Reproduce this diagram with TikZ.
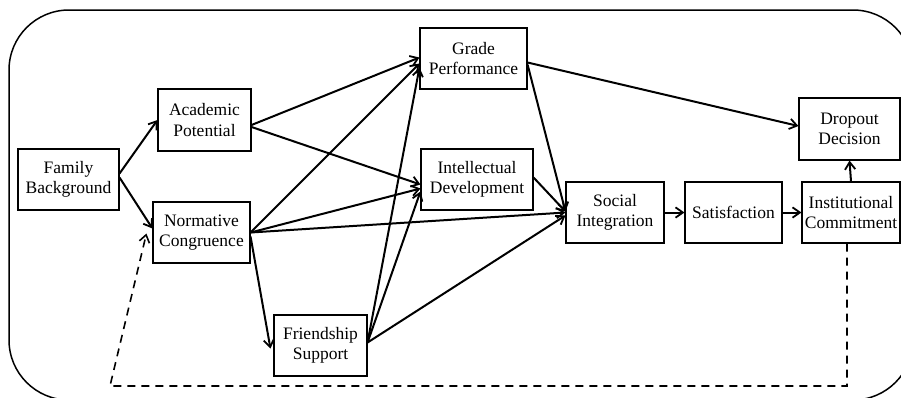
\documentclass[tikz,border=0pt]{standalone}
\usepackage{fontspec}
\setmainfont{Liberation Serif}
\usetikzlibrary{arrows.meta,calc}
\begin{document}
\begin{tikzpicture}[x=1pt,y=-1pt,
  box/.style={draw,line width=1.1pt,rectangle,align=center,inner sep=0pt,
    font=\fontsize{17.5}{20.5}\selectfont},
  arr/.style={line width=2pt,-{Straight Barb[angle=70:9pt,line width=1.8pt]}},
  dash line/.style={line width=1.6pt,dash pattern=on 8pt off 6pt,-{Straight Barb[angle=70:9pt,line width=1.6pt]}}]
\useasboundingbox (0,0) rectangle (901,397);
\begin{scope}
\clip (0,0) rectangle (901,397);
\draw[line width=1.5pt,rounded corners=60pt] (9,10) rectangle (913,400);
\end{scope}
\node[box,minimum width=101pt,minimum height=61pt] (fam) at (68.5,179.5) {Family\\Background};
\node[box,minimum width=93pt,minimum height=62pt] (acad) at (204.5,120) {Academic\\Potential};
\node[box,minimum width=97pt,minimum height=61pt] (norm) at (201.5,232.5) {Normative\\Congruence};
\node[box,minimum width=93pt,minimum height=61pt] (friend) at (320.5,345.5) {Friendship\\Support};
\node[box,minimum width=107pt,minimum height=61pt] (grade) at (473.5,58.5) {Grade\\Performance};
\node[box,minimum width=112pt,minimum height=61pt] (intel) at (477,179.5) {Intellectual\\Development};
\node[box,minimum width=98pt,minimum height=61pt] (social) at (615,212.5) {Social\\Integration};
\node[box,minimum width=97pt,minimum height=61pt] (satis) at (733.5,212.5) {Satisfaction};
\node[box,minimum width=98pt,minimum height=61pt] (inst) at (851,212.5) {Institutional\\Commitment};
\node[box,minimum width=101pt,minimum height=62pt] (drop) at (849.5,129) {Dropout\\Decision};
\draw[arr] ($(fam.east)+(0,-6)$) -- (acad.west);
\draw[arr] ($(fam.east)+(0,-2)$) -- ($(norm.west)+(0,-4)$);
\draw[arr] ($(acad.east)+(0,5)$) -- ($(grade.west)+(0,-1)$);
\draw[arr] ($(acad.east)+(0,7)$) -- ($(intel.west)+(0,5)$);
\draw[arr] (norm.east) -- ($(grade.west)+(0,5)$);
\draw[arr] (norm.east) -- ($(intel.west)+(0,9)$);
\draw[arr] (norm.east) -- (social.west);
\draw[arr] ($(norm.east)+(0,4)$) -- ($(friend.west)+(-3,3)$);
\draw[arr] ($(friend.east)+(0,-3)$) -- ($(grade.west)+(0,9)$);
\draw[arr] ($(friend.east)+(0,-3)$) -- ($(intel.west)+(0,12)$);
\draw[arr] ($(friend.east)+(0,-3)$) -- ($(social.west)+(0,3)$);
\draw[arr] ($(grade.east)+(0,6)$) -- ($(social.west)+(0,-1)$);
\draw[arr] ($(intel.east)+(0,-2)$) -- ($(social.west)+(0,-1)$);
\draw[arr] ($(grade.east)+(0,4)$) -- ($(drop.west)+(0,-3)$);
\draw[arr] (social.east) -- (satis.west);
\draw[arr] (satis.east) -- (inst.west);
\draw[arr] (inst.north) -- (drop.south);
\coordinate (dcorner) at (110,386);
\draw[dash line] ($(inst.south)+(-4,0)$) |- (dcorner) -- ($(norm.west)+(-6,1)$);
\end{tikzpicture}
\end{document}
